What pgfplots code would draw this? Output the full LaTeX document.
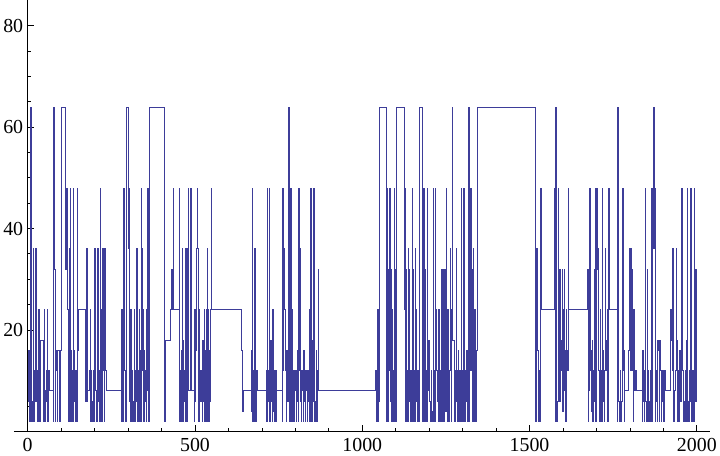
\documentclass[border=0pt]{standalone}
\usepackage{fontspec}
\setmainfont{Liberation Serif}
\usepackage{pgfplots}
\pgfplotsset{compat=1.18}
\definecolor{mmablue}{rgb}{0.24,0.24,0.6}
\begin{document}
\begin{tikzpicture}
\begin{axis}[
  scale only axis,
  width=701pt, height=433.7pt,
  xmin=-41.6, xmax=2040, ymin=0, ymax=85,
  axis lines=middle,
  axis line style={-, line width=0.8pt},
  hide obscured x ticks=false,
  hide obscured y ticks=false,
  xtick={0,500,1000,1500,2000},
  minor xtick={100,200,300,400,600,700,800,900,1100,1200,1300,1400,1600,1700,1800,1900},
  ytick={20,40,60,80},
  minor ytick={5,10,15,25,30,35,45,50,55,65,70,75},
  tick align=inside,
  major tick length=6pt, minor tick length=3.5pt,
  tick style={line width=0.7pt, black},
  /pgf/number format/assume math mode=true,
  /pgf/number format/set thousands separator={},
  tick label style={font=\fontsize{20}{24}\selectfont},
  xticklabel style={yshift=-4pt},
  yticklabel style={xshift=-1pt},
  clip=false,
]
\addplot[const plot, color=mmablue, line width=0.6pt] coordinates {
(1,6)(2,16)(4,2)(6,6)(8,2)(9,64)(12,2)(14,6)(16,36)(18,2)(20,12)(22,36)(24,6)(26,36)(27,12)(29,2)(31,8)(33,24)(35,2)(37,6)(39,18)(46,8)(47,2)(49,24)(50,6)(52,2)(54,8)(56,12)(57,6)(59,24)(60,2)(62,12)(64,8)(76,2)(78,64)(80,48)(81,32)(82,2)(84,12)(85,16)(88,2)(90,16)(95,2)(97,16)(99,64)(112,48)(113,32)(116,48)(117,24)(120,2)(121,24)(123,36)(125,2)(127,48)(128,16)(130,2)(132,12)(134,2)(136,48)(137,16)(139,6)(141,2)(143,12)(145,2)(147,48)(148,16)(150,24)
(171,6)(176,36)(177,6)(179,8)(184,12)(186,24)(187,2)(189,12)(191,6)(193,2)(195,12)(197,2)(199,36)(200,12)(202,36)(203,8)(205,2)(207,24)(208,2)(209,36)(210,6)(212,12)(214,2)(216,48)(217,12)(219,24)(220,2)(222,6)(224,36)(226,12)(228,2)(230,36)(231,24)(233,12)(235,8)
(279,2)(281,24)(282,6)(284,2)(285,36)(287,48)(288,36)(290,12)(292,2)(294,64)(301,36)(303,48)(304,6)(306,24)(307,2)(309,24)(310,6)(312,12)(314,2)(316,6)(318,24)(319,2)(321,12)(323,6)(325,36)(327,8)(329,2)(331,12)(333,24)(334,2)(336,16)(338,2)(340,48)(341,12)(343,36)(344,24)(346,2)(348,16)(350,6)(352,12)(354,2)(356,24)(357,8)(359,48)(360,2)(362,12)(364,64)
(409,2)(412,18)(427,24)(429,32)(431,24)(434,48)(435,24)(452,48)(453,2)(455,12)(457,2)(459,16)(461,36)(462,2)(464,18)(466,6)(468,12)(470,2)(472,36)(473,8)(475,2)(477,36)(478,12)(480,48)(481,8)(487,48)(488,8)(497,2)(499,24)(500,6)(502,16)(504,36)(506,48)(507,36)(509,12)(511,2)(513,24)(514,6)(516,12)(518,6)(521,2)(523,18)(525,6)(527,24)(528,2)(530,16)(532,6)(534,24)(535,2)(537,36)(538,12)(540,24)(541,2)(543,16)(545,6)(547,24)(549,48)(550,24)
(638,16)(640,12)(641,4)(643,8)(667,16)(669,4)(671,48)(672,2)(674,12)(676,2)(678,36)(679,12)(681,2)(683,12)(685,8)
(713,12)(714,2)(716,48)(717,6)(719,12)(721,48)(722,2)(724,12)(726,18)(728,6)(730,2)(732,24)(733,4)(735,12)(737,2)(739,6)(741,12)(743,2)(744,8)
(760,2)(762,48)(763,12)(764,36)(766,24)(767,32)(768,24)(770,12)(772,2)(774,16)(776,6)(778,64)(782,2)(784,12)(786,48)(787,2)(789,24)(790,6)(792,2)(794,12)(796,2)(798,8)(800,12)(802,2)(804,6)(806,16)(808,2)(810,48)(811,12)(813,36)(815,6)(817,2)(819,12)(821,8)(823,2)(825,16)(827,6)(829,2)(831,12)(833,8)(835,2)(837,12)(839,6)(841,24)(842,2)(844,16)(846,48)(847,12)(849,2)(851,18)(853,6)(855,48)(856,12)(858,2)(860,6)(862,16)(864,2)(866,12)(868,32)(869,8)
(1040,12)(1042,2)(1044,12)(1046,24)(1047,2)(1049,6)(1051,64)(1072,2)(1074,48)(1075,6)(1077,2)(1079,32)(1080,12)(1082,48)(1083,32)(1085,6)(1087,32)(1088,2)(1090,24)(1091,12)(1093,2)(1095,48)(1096,32)(1098,6)(1100,2)(1102,64)(1127,24)(1129,48)(1130,2)(1132,32)(1133,12)(1135,2)(1137,36)(1138,24)(1140,32)(1141,6)(1143,2)(1145,12)(1147,2)(1149,48)(1150,32)(1152,24)(1153,2)(1155,12)(1157,2)(1159,36)(1160,24)(1162,6)(1164,2)(1166,12)(1168,2)(1170,64)
(1179,2)(1181,12)(1183,48)(1184,6)(1186,2)(1188,32)(1189,12)(1191,2)(1193,48)(1194,18)(1196,8)(1198,18)(1201,6)(1203,2)(1205,12)(1207,4)(1209,2)(1211,48)(1212,12)(1214,2)(1217,48)(1218,24)(1222,12)(1224,6)(1226,2)(1228,24)(1229,8)(1231,2)(1233,12)(1235,32)(1236,2)(1238,32)(1239,12)(1241,32)(1242,2)(1244,6)(1246,32)(1247,16)(1249,4)(1250,48)(1251,12)(1253,2)(1255,24)(1256,6)(1258,2)(1260,12)(1262,36)(1263,16)(1265,2)(1267,24)(1268,64)(1269,18)(1275,2)(1277,12)(1279,6)(1281,36)(1282,12)(1284,2)(1286,16)(1288,2)(1290,12)(1292,4)(1294,2)(1296,48)(1297,12)(1299,2)(1301,6)(1303,48)(1304,24)(1306,2)(1308,12)(1310,6)(1312,16)(1314,2)(1316,12)(1318,64)(1319,2)(1321,48)(1322,36)(1324,12)(1326,48)(1327,32)(1329,2)(1331,36)(1332,12)(1334,2)(1336,24)(1337,6)(1339,2)(1341,16)(1343,64)
(1517,2)(1519,12)(1521,36)(1523,16)(1525,12)(1527,2)(1529,12)(1531,2)(1533,48)(1534,24)
(1575,48)(1576,2)(1578,64)(1579,8)(1581,2)(1583,6)(1586,48)(1587,8)(1589,32)(1590,6)(1592,32)(1593,12)(1595,18)(1597,32)(1598,4)(1600,24)(1601,8)(1603,32)(1604,16)(1606,6)(1608,2)(1610,24)(1611,16)(1613,12)(1615,48)(1616,24)
(1673,32)(1675,2)(1677,32)(1678,8)(1680,48)(1681,12)(1683,16)(1685,4)(1687,18)(1689,2)(1691,12)(1693,32)(1694,6)(1696,48)(1697,2)(1699,48)(1700,32)(1703,48)(1704,36)(1706,12)(1708,2)(1710,24)(1711,6)(1713,12)(1715,2)(1717,48)(1718,16)(1720,6)(1722,2)(1724,12)(1726,36)(1727,18)(1729,12)(1731,24)(1732,2)(1734,12)(1736,48)(1737,24)
(1761,2)(1763,64)(1764,12)(1766,6)(1768,2)(1770,12)(1772,2)(1774,6)(1776,48)(1777,12)(1779,48)(1780,16)(1782,2)(1784,8)(1796,16)(1798,36)(1800,32)(1802,12)(1804,36)(1805,32)(1807,12)(1809,2)(1811,24)(1812,16)(1814,8)(1816,12)(1818,8)(1836,2)(1838,16)(1840,6)(1842,2)(1844,12)(1846,48)(1847,6)(1849,2)(1851,32)(1852,12)(1854,4)(1856,2)(1858,6)(1860,12)(1862,2)(1864,48)(1865,6)(1867,2)(1868,48)(1869,64)(1871,36)(1872,64)(1874,48)(1875,2)(1877,12)(1879,6)(1881,2)(1883,18)(1885,16)(1887,2)(1889,18)(1891,12)(1893,2)(1895,12)(1897,6)(1899,12)(1901,2)(1903,12)(1905,8)
(1921,24)(1923,18)(1926,12)(1928,36)(1929,12)(1931,2)(1933,8)(1935,12)(1938,36)(1939,18)(1941,6)(1943,2)(1945,12)(1947,2)(1949,16)(1951,6)(1953,32)(1954,48)(1955,32)(1957,48)(1958,12)(1960,2)(1962,6)(1964,2)(1966,12)(1968,18)(1970,2)(1972,48)(1973,6)(1975,2)(1977,12)(1979,6)(1981,48)(1982,16)(1984,2)(1986,12)(1988,6)(1990,2)(1992,48)(1993,24)(1995,32)(1996,6)(1998,32)(1999,16)(2000,16)
};
\end{axis}
\end{tikzpicture}
\end{document}
